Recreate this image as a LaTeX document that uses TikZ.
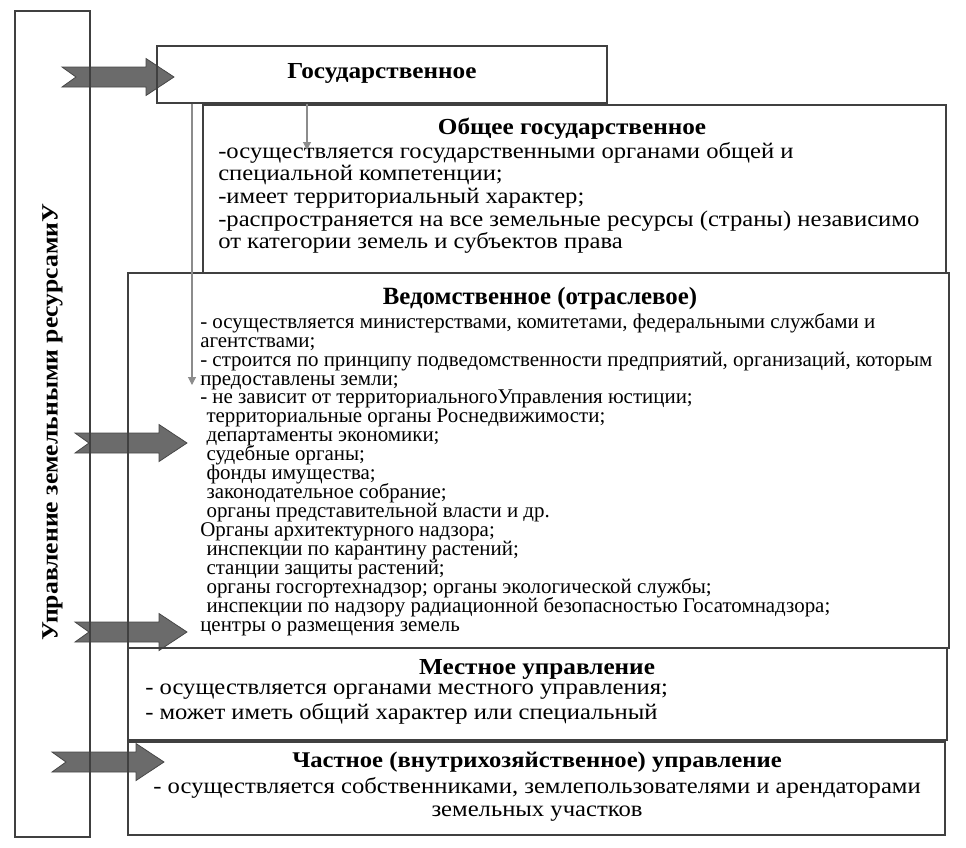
\documentclass[tikz,border=0pt]{standalone}
\usepackage{fontspec}
\setmainfont{Liberation Serif}[FakeStretch=1.1]
\newfontfamily\vedomfont{Liberation Serif}
\newcommand\tightlines{\lineskiplimit=-20pt\relax}
\usepackage{tikz}
\usetikzlibrary{arrows.meta, positioning, fit}

\begin{document}
\begin{tikzpicture}[x=0.75pt, y=-0.75pt,
                box/.style={draw=black!75, line width=0.9pt, inner sep=0pt},
                head/.style={font=\fontsize{17.2}{19}\selectfont\bfseries, inner sep=0pt},
                body/.style={font=\fontsize{16.8}{17}\selectfont, align=left, inner sep=0pt, anchor=north west},
                thin/.style={draw=black!45, line width=0.8pt, -{Triangle[length=6pt, width=6pt]}},
                fatarrow/.pic={\filldraw[fill=black!58, draw=black!72, line width=0.6pt]
                    (0,-10) -- (84,-10) -- (84,-18.5) -- (112,0) -- (84,18.5) -- (84,10) -- (0,10) -- (14,0) -- cycle;}]

                \useasboundingbox (0,0) rectangle (966,847);

                % Block arrows
                \pic at (62,77) {fatarrow};
                \pic at (75,443) {fatarrow};
                \pic at (75,632) {fatarrow};
                \pic at (52,762) {fatarrow};

                % Boxes
                \node[box, fit={(15,11) (90,837)}] (upr) {};
                \node[box, fit={(157,46) (607,103)}] (gos) {};
                \node[box, fit={(203,105) (946,273)}] (obshee) {};
                \node[box, fit={(128,273) (949,648)}] (vedom) {};
                \node[box, fit={(128,648) (947,740)}] (mestn) {};
                \node[box, fit={(128,742) (945,835)}] (chastn) {};

                % Texts
                \node[head, rotate=90, font=\fontsize{17.5}{19}\selectfont\bfseries] (uprtxt) at (upr.center |- 0,422) {Управление земельными ресурсамиУ};
                \node[head] (gostxt) at (382,73) {Государственное};

                \node[head] (obsheehead) at (572,129) {Общее государственное};
                \node[body] (obsheetxt) at (218,142) {-осуществляется государственными органами общей и\\
                    специальной компетенции;\\
                    -имеет территориальный характер;\\
                    -распространяется на все земельные ресурсы (страны) независимо\\
                    от категории земель и субъектов права};

                \node[head, font=\vedomfont\fontsize{18.6}{19}\selectfont\bfseries] (vedomhead) at (540,299) {Ведомственное (отраслевое)};
                \node[body, font=\vedomfont\fontsize{15.7}{14.2}\selectfont\tightlines] (vedomtxt) at (200,313) {- осуществляется министерствами, комитетами, федеральными службами и\\
                    агентствами;\\
                    - строится по принципу подведомственности предприятий, организаций, которым\\
                    предоставлены земли;\\
                    - не зависит от территориальногоУправления юстиции;\\
                    \hspace{0.3em}территориальные органы Роснедвижимости;\\
                    \hspace{0.3em}департаменты экономики;\\
                    \hspace{0.3em}судебные органы;\\
                    \hspace{0.3em}фонды имущества;\\
                    \hspace{0.3em}законодательное собрание;\\
                    \hspace{0.3em}органы представительной власти и др.\\
                    Органы архитектурного надзора;\\
                    \hspace{0.3em}инспекции по карантину растений;\\
                    \hspace{0.3em}станции защиты растений;\\
                    \hspace{0.3em}органы госгортехнадзор; органы экологической службы;\\
                    \hspace{0.3em}инспекции по надзору радиационной безопасностью Госатомнадзора;\\
                    центры о размещения земель};

                \node[head] (mestnhead) at (537,669) {Местное управление};
                \node[body, font=\fontsize{16.8}{18.5}\selectfont] (mestntxt) at (145,684) {- осуществляется органами местного управления;\\
                    - может иметь общий характер или специальный};

                \node[head, font=\fontsize{16.8}{19}\selectfont\bfseries] (chastnhead) at (537,762) {Частное (внутрихозяйственное) управление};
                \node[body, align=center, anchor=north, font=\fontsize{16.8}{17.3}\selectfont] (chastntxt) at (537,777) {- осуществляется собственниками, землепользователями и арендаторами\\
                    земельных участков};

                % Thin arrows
                \coordinate (obsheein) at (307,150);
                \coordinate (vedomin) at (192,385);
                \draw[thin] (gos.south -| obsheein) -- (obsheein);
                \draw[thin] (gos.south -| vedomin) -- (vedomin);
            \end{tikzpicture}
\end{document}
